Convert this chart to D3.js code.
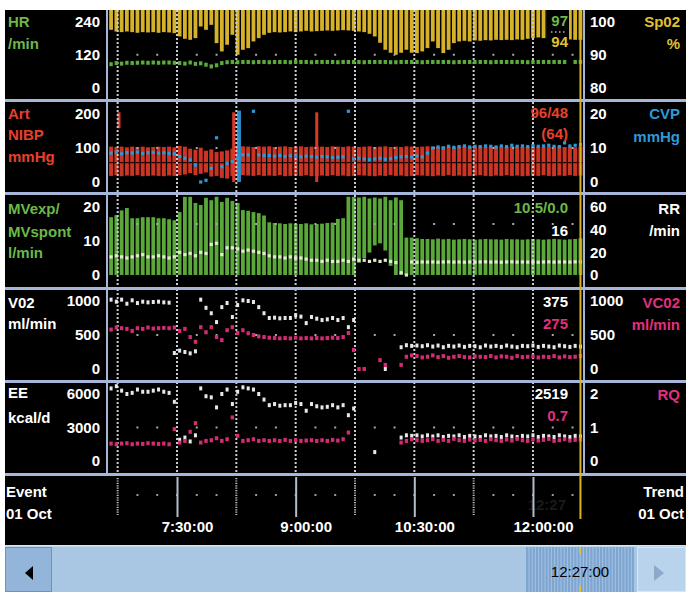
<!DOCTYPE html>
<html><head><meta charset="utf-8">
<script src="https://cdn.jsdelivr.net/npm/d3@7"></script>
<style>
html,body{margin:0;padding:0;background:#fff;}
svg{display:block;}
text{font-family:"Liberation Sans",Arial,sans-serif;font-weight:bold;}
</style></head>
<body>
<svg id="c" width="686" height="592"></svg>
<script>
// ---------- DATA (sample every 4 min from 6:40 to 12:36) ----------
const sampleTimes = d3.range(400, 757, 4); // minutes after midnight
const spo2Lo = [97.5,97,96.8,97,96.8,96.6,96.8,96.7,96.8,96.6,
 96.8,96.7,96.5,95.5,94.8,94.5,95,98.5,97.5,99,
 93.5,91,93,96,90,91.5,92,94,95,96,
 96.6,96.8,96.7,96.8,97,96.8,97,97.2,97,97.1,
 97.2,97.3,97.2,97.3,97.4,97.3,97.2,97,96.8,96.3,
 95.5,93.6,91.5,90.6,90,90.6,91.5,90.6,90.5,91,
 92,94,92,90.5,91.5,93.5,94,94.2,94,94.3,
 94.2,94.4,94.3,94.5,94.4,94.5,94.4,94.6,94.5,94.8,
 95,95.2,95,94.8,94.6,94.5,94.4,94.6,94.5,94.5];
const hr = [86,90,88,91,90,91,92,91,92,91,
 92,92,91,90,88,92,87,89,84,78,
 82,90,93,94,93,94,94,93,94,94,
 93,94,94,94,93,94,94,94,93,94,
 94,94,94,93,94,94,94,94,93,94,
 94,94,94,93,93,94,94,94,94,93,
 94,94,94,94,94,93,94,94,94,94,
 94,94,93,94,94,94,94,94,94,93,
 94,94,94,94,94,94,94,null,94,94];
const artHi = [104,103,104,102,104,103,104,102,103,104,
 103,104,102,106,104,98,95,101,92,96,
 88,90,93,98,102,105,104,103,105,104,
 105,103,104,105,103,104,105,103,104,105,
 104,103,105,104,103,105,104,103,104,105,
 103,104,105,103,104,103,105,104,103,104,
 105,104,103,105,104,103,104,105,103,104,
 105,103,104,105,104,103,105,104,103,104,
 105,104,103,104,105,104,103,104,102,104];
const artLo = [18,20,17,19,18,20,17,18,19,18,
 17,19,18,20,22,26,20,24,28,16,
 18,12,10,18,22,20,19,18,20,18,
 19,18,20,17,18,19,18,20,17,18,
 19,18,20,18,19,17,18,20,19,18,
 17,19,18,20,18,19,17,18,20,19,
 18,17,19,18,20,18,19,17,18,19,
 20,18,17,19,18,20,18,19,17,18,
 19,18,20,18,17,19,18,20,18,19];
const artMean = 57;
const artSpikeTimes = [406, 493, 556];
const artSpikeHi = [205, 205, 205];
const artSpikeLo = [158, 0, 0];
const cvp = [8.5,8.8,8.3,8.6,8.5,8.8,8.4,8.6,8.7,8.5,
 8.6,8.4,8.3,7.5,7,6.5,5,0,0.5,4,
 13,4.5,5.5,6,7,8,8,22,8,7.8,
 7.8,7.6,7.8,7.5,7.7,7.6,7.4,7.6,7.5,7.3,
 7.5,7.4,7.2,7.3,7.4,22,6.8,7,6.8,6.6,
 6.8,7,6.7,6.9,7.2,7.4,7.5,7.3,7.6,7.4,
 8.5,10,10.3,10,10.5,10.2,10.4,10.6,10.3,10.5,
 10.4,10.6,10.5,10.3,10.6,10.4,10.8,10.5,10.6,10.4,
 10.7,10.5,10.6,10.8,10.5,10.4,11.5,10.6,10.8,11];
const cvpSpikeTimes = [497];
const mvHi = [17,17.6,19,19.7,16.7,16.7,17,17,17,16.7,
 16.7,16.4,16.1,18.5,23,23,21.2,20.6,22.7,22,
 23,21.5,22.7,21.8,21.2,19.1,18.9,18.5,18.2,17.5,
 15.5,15.3,15.2,15,15.2,15.1,15,15.2,14.9,15,
 15.1,15.3,15.4,16.5,16.7,23,23,22.8,23,22.5,
 22.8,22.5,23,22,22.8,22,11,11,10.8,10.6,
 10.6,10.5,10.7,10.5,10.6,10.4,10.5,10.6,10.5,10.4,
 10.5,10.6,10.5,10.5,10.4,10.6,10.5,10.5,10.4,10.5,
 10.6,10.5,10.4,10.5,10.6,10.5,10.4,10.5,10.6,10.8];
const mvLo = [0,0,0,0,0,0,0,0,0,0,
 0,0,0,0,0,0,0,0,0,0,
 0,0,0,0,0,0,0,0,0,0,
 0,0,0,0,0,0,0,0,0,0,
 0,0,0,0,0,0,0,3.6,5,6.6,
 8.7,9.3,7.2,2.7,0,0,0,0,0,0,
 0,0,0,0,0,0,0,0,0,0,
 0,0,0,0,0,0,0,0,0,0,
 0,0,0,0,0,0,0,0,0,0];
const rr = [16,17,16,15,16,17,18,16,16,17,
 16,15,16,20,18,19,17,20,19,27,
 28,18,24,24,23,21,22,21,20,19,
 17,16,16,15,16,15,15,14,13,13,
 12,13,12,12,13,12,14,13,13,12,
 13,12,13,12,11,2,0,11.5,11.2,11.5,
 11.4,11.5,11.3,11.5,11.6,11.4,11.5,11.3,11.5,11.4,
 11.5,11.6,11.4,11.5,11.3,11.5,11.6,11.4,11.5,11.4,
 11.5,11.3,11.5,11.6,11.4,11.5,11.5,11.4,11.6,11.5];
const vo2 = [1050,990,1040,960,1010,970,990,980,985,990,
 980,975,235,270,250,230,260,1040,900,820,
 690,910,970,765,940,1010,1000,985,910,820,
 750,755,745,750,750,790,770,675,765,740,
 720,730,750,720,750,615,720,null,null,null,
 null,null,0,null,null,320,350,340,345,335,
 350,330,345,320,340,330,345,325,340,335,
 320,345,330,340,325,345,330,320,340,335,
 345,325,340,330,320,345,335,325,340,330];
const vco2 = [580,610,600,590,560,600,590,610,595,600,
 605,600,610,560,590,470,400,615,540,615,
 470,425,570,615,530,570,525,500,480,470,
 460,455,450,455,450,460,450,455,450,455,
 450,455,460,455,470,530,280,0,0,null,
 null,130,60,null,null,60,180,200,190,170,
 180,200,175,190,165,180,190,175,170,185,
 180,175,190,170,185,180,165,190,175,180,
 185,170,180,175,190,170,185,175,180,190];
const ee = [6500,6800,6300,6000,6100,6400,6200,6200,6300,6400,
 6200,6100,5300,1900,2100,1750,2300,6500,5800,5700,
 4800,6000,6400,5100,6200,6600,6500,6400,6000,5500,
 5000,5100,4950,5000,5000,5200,5100,4500,5100,4900,
 4800,4850,5000,4800,5000,4100,4700,null,null,null,
 800,null,null,null,null,2100,2300,2250,2300,2200,
 2300,2200,2300,2150,2250,2200,2300,2150,2250,2200,
 2150,2300,2200,2250,2150,2300,2200,2150,2250,2200,
 2300,2150,2250,2200,2150,2300,2200,2150,2250,2200];
const rq = [0.52,0.5,0.52,0.53,0.5,0.52,0.51,0.53,0.52,0.51,
 0.52,0.5,0.95,0.55,0.6,0.87,1.13,0.55,0.6,0.62,
 0.68,0.6,0.65,1.3,0.75,0.6,0.62,0.65,0.6,0.62,
 0.6,0.62,0.6,0.63,0.6,0.62,0.6,0.61,0.62,0.6,
 0.62,0.6,0.63,0.61,0.65,0.85,null,null,null,null,
 null,null,null,null,null,0.55,0.6,0.65,0.62,0.6,
 0.62,0.65,0.6,0.63,0.6,0.66,0.62,0.6,0.64,0.61,
 0.63,0.6,0.65,0.62,0.6,0.64,0.61,0.66,0.62,0.6,
 0.64,0.61,0.63,0.66,0.6,0.62,0.65,0.61,0.63,0.64];

const gridTimes = [405,450,495,540,585,630,675,720];
const majorTimes = [450,540,630,720];
const minorDotTimes = [420,435,465,480,510,525,555,570,600,615,645,660,690,705,735,750];
const cursorTime = 756;

const leftTicks = [[0,120,240],[0,100,200],[0,10,20],[0,500,1000],[0,3000,6000]];
const rightTicks = [[80,90,100],[0,10,20],[0,20,40,60],[0,500,1000],[0,1,2]];
const readouts = [
  [["97","#6cb848"],["94","#e0c030"]],
  [["96/48","#e8402a"],["(64)","#e8402a"]],
  [["10.5/0.0","#6cb848"],["16","#ffffff"]],
  [["375","#ffffff"],["275","#e0307f"]],
  [["2519","#ffffff"],["0.7","#e0307f"]]
];
const leftLabels = [
  [["HR","#6cb848"],["/min","#6cb848"]],
  [["Art","#e8402a"],["NIBP","#e8402a"],["mmHg","#e8402a"]],
  [["MVexp/","#6cb848"],["MVspont","#6cb848"],["l/min","#6cb848"]],
  [["V02","#ffffff"],["ml/min","#ffffff"]],
  [["EE","#ffffff"],["kcal/d","#ffffff"]],
  [["Event","#ffffff"],["01 Oct","#ffffff"]]
];
const rightLabels = [
  [["Sp02","#e0c030"],["%","#e0c030"]],
  [["CVP","#2a9ad8"],["mmHg","#2a9ad8"]],
  [["RR","#ffffff"],["/min","#ffffff"]],
  [["VC02","#e0307f"],["ml/min","#e0307f"]],
  [["RQ","#e0307f"]],
  [["Trend","#ffffff"],["01 Oct","#ffffff"]]
];
const scrollLabel = "12:27:00";
const ghostLabel = "12:27";

// ---------- LAYOUT ----------
const svg = d3.select("#c");
const X0 = 108, X1 = 584;
const rows = [[10,99],[102,192],[195,287],[289,380],[382,473],[476,544]];
const x = d3.scaleLinear().domain([397.67, 758.7]).range([X0, X1]);
const fmt = m => Math.floor(m/60) + ":" + String(m%60).padStart(2,"0") + ":00";

const yHR = d3.scaleLinear([0,240],[88,21.5]);
const ySp = d3.scaleLinear([80,100],[88,21.5]);
const yArt = d3.scaleLinear([0,200],[182,114]);
const yCvp = d3.scaleLinear([0,20],[182,114]);
const yMV = d3.scaleLinear([0,20],[275,207]);
const yRR = d3.scaleLinear([0,60],[275,207]);
const yVO = d3.scaleLinear([0,1000],[369,301]);
const yEE = d3.scaleLinear([0,6000],[461,394]);
const yRQ = d3.scaleLinear([0,2],[461,394]);
const leftScales = [yHR,yArt,yMV,yVO,yEE];
const rightScales = [ySp,yCvp,yRR,yVO,yRQ];
const minorDotY = [yHR(120), yArt(100), 224, yVO(500), yEE(3000), 495];

// background
svg.append("rect").attr("x",5).attr("y",10).attr("width",681).attr("height",535).attr("fill","#000");

// clip paths
const defs = svg.append("defs");
rows.slice(0,5).forEach((r,k)=>{
  defs.append("clipPath").attr("id","cp"+k).append("rect")
    .attr("x",X0).attr("y",r[0]).attr("width",X1-X0).attr("height",r[1]-r[0]);
});
const P = rows.slice(0,5).map((r,k)=>svg.append("g").attr("clip-path",`url(#cp${k})`));
const idx = d3.range(sampleTimes.length);
const bw = 3.8;

// Row 1: SpO2 bars (yellow) + HR dots
P[0].selectAll("rect.sp").data(idx).join("rect")
  .attr("x",i=>x(sampleTimes[i])-bw/2).attr("width",bw)
  .attr("y",rows[0][0]).attr("height",i=>ySp(spo2Lo[i])-rows[0][0])
  .attr("fill","#d6b22a");
// Row 2: art bars
P[1].selectAll("rect.art").data(idx).join("rect")
  .attr("x",i=>x(sampleTimes[i])-2).attr("width",4)
  .attr("y",i=>yArt(artHi[i])).attr("height",i=>yArt(artLo[i])-yArt(artHi[i]))
  .attr("fill","#cc3424");
P[1].selectAll("rect.am").data(idx).join("rect")
  .attr("x",i=>x(sampleTimes[i])-2).attr("width",4)
  .attr("y",yArt(artMean)-0.6).attr("height",1.2).attr("fill","#200000");
P[1].selectAll("rect.asp").data(artSpikeTimes).join("rect")
  .attr("x",(t)=>x(t)-1.5).attr("width",3)
  .attr("y",(t,j)=>yArt(artSpikeHi[j])).attr("height",(t,j)=>yArt(artSpikeLo[j])-yArt(artSpikeHi[j]))
  .attr("fill","#d83a28");
P[1].selectAll("rect.csp").data(cvpSpikeTimes).join("rect")
  .attr("x",t=>x(t)-2).attr("width",4)
  .attr("y",yCvp(21)).attr("height",yCvp(0)-yCvp(21)).attr("fill","#2a8ec8");
// Row 3: MV bars
P[2].selectAll("rect.mv").data(idx).join("rect")
  .attr("x",i=>x(sampleTimes[i])-bw/2).attr("width",bw)
  .attr("y",i=>yMV(mvHi[i])).attr("height",i=>yMV(mvLo[i])-yMV(mvHi[i]))
  .attr("fill","#5aa83a");

// readout background box in row 1
P[0].append("rect").attr("x",547).attr("y",10).attr("width",22).attr("height",40).attr("fill","#000");

// grid lines rows 1-5
rows.slice(0,5).forEach((r,k)=>{
  P[k].selectAll("line.g").data(gridTimes).join("line")
    .attr("x1",t=>x(t)).attr("x2",t=>x(t)).attr("y1",r[0]).attr("y2",r[1])
    .attr("stroke","#c8ccd6").attr("stroke-width",2).attr("stroke-dasharray","2,2");
  P[k].selectAll("rect.md").data(minorDotTimes).join("rect")
    .attr("x",t=>x(t)-1).attr("y",minorDotY[k]-1).attr("width",2).attr("height",2).attr("fill","#a8a8a8");
});

function dots(g, vals, sc, color, w, h){
  g.append("g").selectAll("rect").data(idx.filter(i=>vals[i]!=null)).join("rect")
    .attr("x",i=>x(sampleTimes[i])-w/2).attr("y",i=>sc(vals[i])-h/2)
    .attr("width",w).attr("height",h).attr("fill",color);
}
dots(P[0], hr, yHR, "#5cac3c", 3.4, 4);
dots(P[1], cvp.map(v=>v>20?20.8:v), yCvp, "#2a9ad8", 3.2, 3.2);
dots(P[2], rr, yRR, "#e6e8d4", 3.2, 3.2);
dots(P[3], vo2.map(v=>v==null?null:Math.min(v,1020)), yVO, "#e8e8e8", 3, 4);
dots(P[3], vco2, yVO, "#d42c74", 3.4, 4);
dots(P[4], ee.map(v=>v==null?null:Math.min(v,6700)), yEE, "#e8e8e8", 3, 4);
dots(P[4], rq, yRQ, "#d42c74", 3.4, 4);

// separators
rows.slice(0,5).forEach(r=>{
  svg.append("rect").attr("x",5).attr("y",r[1]).attr("width",681).attr("height",3).attr("fill","#a7b6d8");
});
svg.append("rect").attr("x",106).attr("y",10).attr("width",2).attr("height",463).attr("fill","#a7b6d8");
svg.append("rect").attr("x",583).attr("y",10).attr("width",2).attr("height",463).attr("fill","#a7b6d8");

// axes
const tf = d => String(d);
leftScales.forEach((s,k)=>{
  const g = svg.append("g").attr("transform","translate(101,0)")
    .call(d3.axisLeft(s).tickValues(leftTicks[k]).tickFormat(tf).tickSize(0).tickPadding(1));
  g.select(".domain").remove();
  g.selectAll("text").attr("fill","#fff").attr("font-size",15).attr("font-family",null);
});
rightScales.forEach((s,k)=>{
  const g = svg.append("g").attr("transform","translate(589,0)")
    .call(d3.axisRight(s).tickValues(rightTicks[k]).tickFormat(tf).tickSize(0).tickPadding(1));
  g.select(".domain").remove();
  g.selectAll("text").attr("fill","#fff").attr("font-size",15).attr("font-family",null);
});

// labels
const leftLabelY = [[22,44],[114,135,157],[209,232,253],[303,324],[393,418],[492,514]];
const rightLabelY = [[22,44],[114,137],[209,231],[303,325],[395],[492,514]];
leftLabels.forEach((lines,k)=>lines.forEach((l,j)=>{
  svg.append("text").attr("x",k==5?6:8).attr("y",leftLabelY[k][j]).attr("dy","0.36em")
    .attr("font-size",15).attr("fill",l[1]).text(l[0]);
}));
rightLabels.forEach((lines,k)=>lines.forEach((l,j)=>{
  svg.append("text").attr("x",k==5?684:680).attr("y",rightLabelY[k][j]).attr("dy","0.36em")
    .attr("text-anchor","end").attr("font-size",15).attr("fill",l[1]).text(l[0]);
}));
const readY = [[21,42],[113,134],[208,231],[302,324],[394,416]];
readouts.forEach((lines,k)=>lines.forEach((l,j)=>{
  svg.append("text").attr("x",568).attr("y",readY[k][j]).attr("dy","0.36em")
    .attr("text-anchor","end").attr("font-size",15).attr("fill",l[1]).text(l[0]);
}));
svg.append("line").attr("x1",551).attr("x2",566).attr("y1",32).attr("y2",32)
  .attr("stroke","#bbb").attr("stroke-width",1.5).attr("stroke-dasharray","1.5,2.5");

// event row
svg.selectAll("line.evd").data(gridTimes.filter(t=>!majorTimes.includes(t))).join("line")
  .attr("x1",t=>x(t)).attr("x2",t=>x(t)).attr("y1",478).attr("y2",515)
  .attr("stroke","#b8bcc8").attr("stroke-width",2).attr("stroke-dasharray","1.2,1.2");
svg.selectAll("rect.evm").data(minorDotTimes.concat(majorTimes)).join("rect")
  .attr("x",t=>x(t)-1).attr("y",494).attr("width",2).attr("height",2).attr("fill","#9a9a9a");
svg.append("text").attr("x",566).attr("y",505).attr("dy","0.36em").attr("text-anchor","end")
  .attr("font-size",15).attr("fill","#1a1a1a").text(ghostLabel);
const ax = svg.append("g").attr("transform","translate(0,477)")
  .call(d3.axisBottom(x).tickValues(majorTimes).tickSize(40).tickPadding(4).tickFormat(fmt));
ax.select(".domain").remove();
ax.selectAll("line").attr("stroke","#b4bccc").attr("stroke-width",2);
ax.selectAll("text").attr("fill","#fff").attr("font-size",15).attr("font-family",null).attr("dx",10);

// cursor
svg.append("rect").attr("x",x(cursorTime)-1).attr("y",10).attr("width",2).attr("height",509).attr("fill","#d8b424");

// bottom scroll bar
svg.append("rect").attr("x",5).attr("y",545).attr("width",681).attr("height",47).attr("fill","#a9c7e2");
svg.append("rect").attr("x",5).attr("y",545).attr("width",681).attr("height",1.5).attr("fill","#d6e4f2");
svg.append("rect").attr("x",5.5).attr("y",547.5).attr("width",46).attr("height",44).attr("fill","#93b5d9").attr("stroke","#6f92bd");
svg.append("path").attr("d","M25,573 L33,566 L33,580 Z").attr("fill","#000");
svg.append("rect").attr("x",526).attr("y",547).attr("width",108).attr("height",45).attr("fill","#7fa6d1");
svg.selectAll("line.str").data(d3.range(529,634,3.2)).join("line")
  .attr("x1",d=>d).attr("x2",d=>d).attr("y1",547).attr("y2",592)
  .attr("stroke","#a4c2e2").attr("stroke-width",1);
svg.append("rect").attr("x",579).attr("y",547).attr("width",2).attr("height",7).attr("fill","#e0c030");
svg.append("rect").attr("x",579).attr("y",585).attr("width",2).attr("height",7).attr("fill","#e0c030");
svg.append("text").attr("x",580).attr("y",572).attr("dy","0.36em").attr("text-anchor","middle")
  .attr("font-size",15).style("font-weight","normal").attr("fill","#000").text(scrollLabel);
svg.append("rect").attr("x",637.5).attr("y",547.5).attr("width",48).attr("height",44).attr("fill","#b9d3ec").attr("stroke","#d8e6f4");
svg.append("path").attr("d","M654,565 L664,573 L654,581 Z").attr("fill","#8ea8ca");
</script>
</body></html>
